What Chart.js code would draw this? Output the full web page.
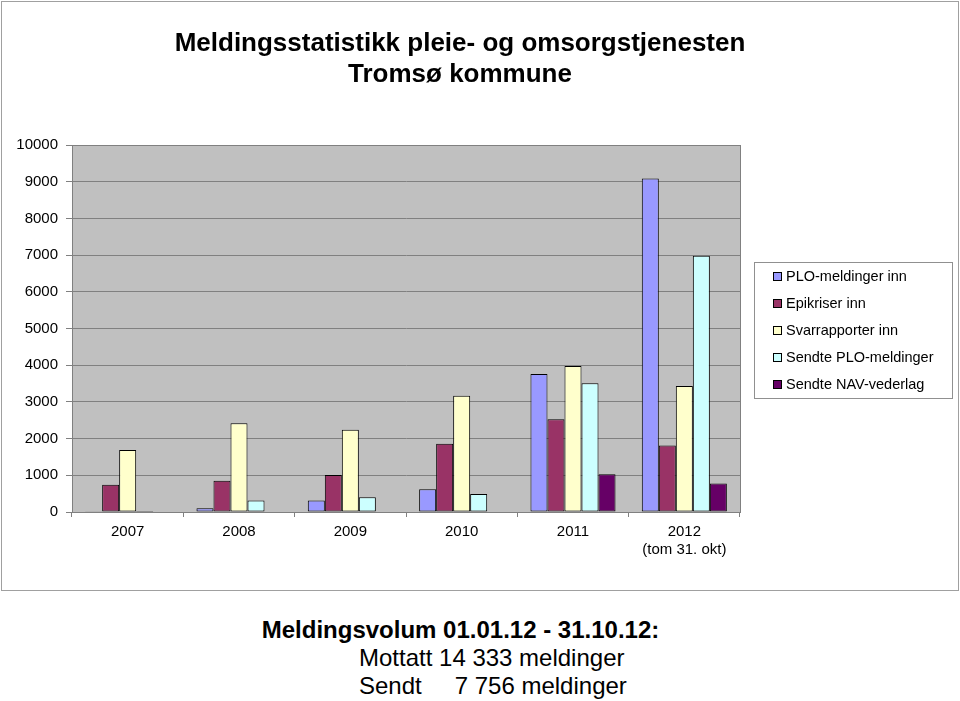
<!DOCTYPE html>
<html>
<head>
<meta charset="utf-8">
<script src="https://cdn.jsdelivr.net/npm/chart.js@4/dist/chart.umd.min.js"></script>
<style>
    body { margin: 0; background: #fff; font-family: "Liberation Sans", Arial, sans-serif; }
    #wrap { position: relative; width: 960px; height: 701px; }
    #chart { position: absolute; left: 0; top: 0; }
    .line { position: absolute; font-size: 24px; line-height: 28px; color: #000; white-space: pre; }
</style>
</head>
<body>
<div id="wrap">
    <canvas id="chart" width="960" height="593"></canvas>
    <div class="line" style="left:0; width:921px; text-align:center; top:616px; font-weight:bold;">Meldingsvolum 01.01.12 - 31.10.12:</div>
    <div class="line" style="left:359px; top:644px;">Mottatt 14 333 meldinger</div>
    <div class="line" style="left:359px; top:672px;">Sendt<span style="display:inline-block; width:33px;"></span>7 756 meldinger</div>
</div>
<script>
document.addEventListener("DOMContentLoaded", () => {
    const FONT = '"Liberation Sans", Arial, sans-serif';

    // Data
    const years = ['2007', '2008', '2009', '2010', '2011', ['2012', '(tom 31. okt)']];
    const ploInn = [20, 100, 310, 620, 3760, 9090];
    const epikriserInn = [740, 850, 1010, 1860, 2530, 1810];
    const svarrapporterInn = [1690, 2420, 2240, 3170, 3980, 3433];
    const sendtePlo = [30, 310, 400, 490, 3510, 6980];
    const sendteNav = [0, 0, 0, 0, 1030, 776];
    const yTicks = [0, 1000, 2000, 3000, 4000, 5000, 6000, 7000, 8000, 9000, 10000];
    const titleLines = ['Meldingsstatistikk pleie- og omsorgstjenesten', 'Tromsø kommune'];

    const bar = (label, data, color) => ({
        label: label,
        data: data,
        backgroundColor: color,
        borderColor: '#000000',
        borderWidth: 1,
        borderSkipped: false,
        categoryPercentage: 0.764,
        barPercentage: 1.0
    });

    // Plot background, frame, title and the boxed legend (drawn by hand, Excel style)
    const excelLook = {
        id: 'excelLook',
        beforeDraw(chart) {
            const { ctx, chartArea: a } = chart;
            ctx.save();
            ctx.fillStyle = '#ffffff';
            ctx.fillRect(0, 0, chart.width, chart.height);
            ctx.fillStyle = '#c0c0c0';
            ctx.fillRect(a.left, a.top, a.right - a.left, a.bottom - a.top);
            ctx.restore();
        },
        afterDraw(chart) {
            const { ctx, chartArea: a } = chart;
            ctx.save();
            // plot frame
            ctx.strokeStyle = '#808080';
            ctx.lineWidth = 1;
            ctx.strokeRect(Math.round(a.left) + 0.5, Math.round(a.top) + 0.5,
                Math.round(a.right - a.left), Math.round(a.bottom - a.top));
            // outer chart border
            ctx.strokeStyle = '#a0a0a0';
            ctx.strokeRect(1.5, 1.5, 957, 589);

            // title
            ctx.fillStyle = '#000';
            ctx.font = 'bold 26px ' + FONT;
            ctx.textAlign = 'center';
            ctx.textBaseline = 'middle';
            titleLines.forEach((t, i) => ctx.fillText(t, 460, 44 + i * 31));

            // legend
            ctx.strokeStyle = '#909090';
            ctx.strokeRect(754.5, 262.5, 198, 136);
            ctx.font = '14.5px ' + FONT;
            ctx.textAlign = 'left';
            chart.data.datasets.forEach((ds, i) => {
                const y = 276 + i * 27;
                ctx.fillStyle = ds.backgroundColor;
                ctx.fillRect(773, y - 4, 9, 9);
                ctx.strokeStyle = '#000';
                ctx.strokeRect(773.5, y - 3.5, 8, 8);
                ctx.fillStyle = '#000';
                ctx.fillText(ds.label, 786, y + 1);
            });
            ctx.restore();
        }
    };

    new Chart(document.getElementById('chart').getContext('2d'), {
        type: 'bar',
        data: {
            labels: years,
            datasets: [
                bar('PLO-meldinger inn', ploInn, '#9999ff'),
                bar('Epikriser inn', epikriserInn, '#993366'),
                bar('Svarrapporter inn', svarrapporterInn, '#ffffcc'),
                bar('Sendte PLO-meldinger', sendtePlo, '#ccffff'),
                bar('Sendte NAV-vederlag', sendteNav, '#660066')
            ]
        },
        options: {
            responsive: false,
            animation: false,
            devicePixelRatio: 1,
            layout: { padding: { top: 145, left: 0, right: 220, bottom: 0 } },
            plugins: {
                legend: { display: false },
                title: { display: false },
                tooltip: { enabled: false }
            },
            scales: {
                x: {
                    afterFit: (s) => { s.height = 593 - 512; },
                    grid: { drawOnChartArea: false, color: '#808080', tickLength: 5, offset: true },
                    border: { color: '#000000' },
                    ticks: { color: '#000', font: { family: FONT, size: 15, lineHeight: 1.25 }, padding: 5, maxRotation: 0 }
                },
                y: {
                    min: 0,
                    max: 10000,
                    afterFit: (s) => { s.width = 72; },
                    afterBuildTicks: (s) => { s.ticks = yTicks.map(v => ({ value: v })); },
                    grid: { color: '#808080', tickLength: 6 },
                    border: { color: '#808080' },
                    ticks: {
                        color: '#000',
                        font: { family: FONT, size: 15 },
                        padding: 8,
                        callback: (v) => String(v)
                    }
                }
            }
        },
        plugins: [excelLook]
    });
});
</script>
</body>
</html>
